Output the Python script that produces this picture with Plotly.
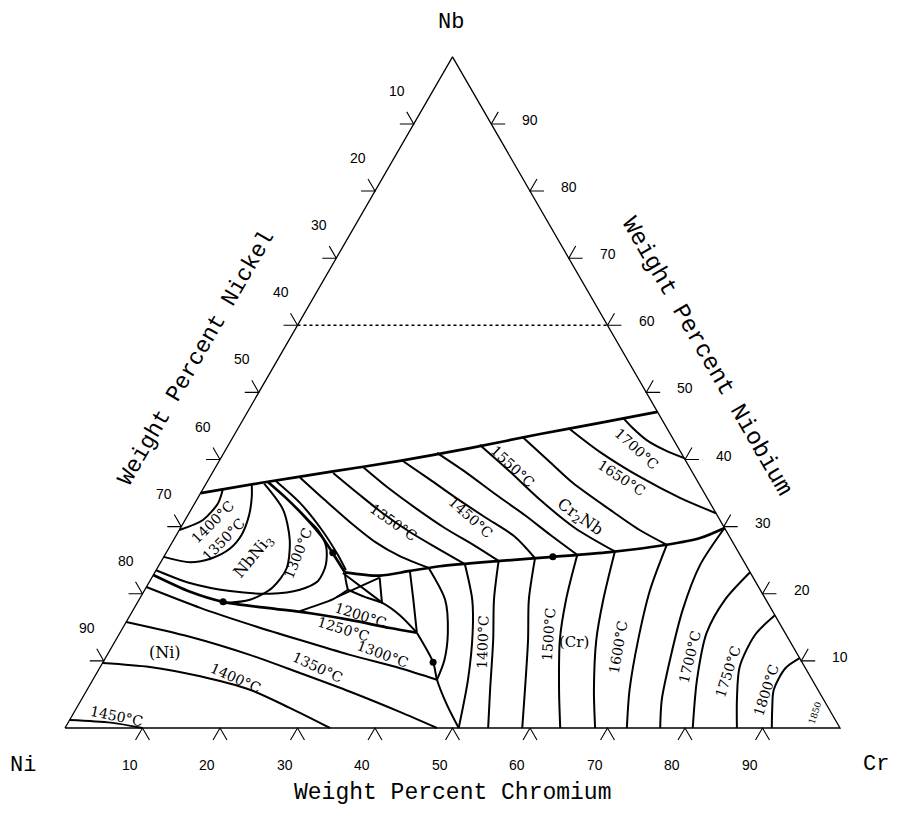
import numpy as np
import plotly.graph_objects as go

# all compositions in wt% as (Cr, Nb); Ni is the balance

# outer limit of the projection and the Nb = 60 dotted line
liquidus_limit = [(0, 35.0), (6.9, 36.5), (15.1, 38.15), (23.3, 39.8), (31.4, 41.7),
                  (39.4, 43.8), (46.3, 45.45), (52.9, 47.1)]
dotted_nb60 = [(0, 60), (40, 60)]

# univariant valleys
valley_ni_nbni3 = [(0, 22.8), (6.0, 20.3), (11.0, 18.8), (17.1, 17.9), (23.1, 17.1),
                   (28.7, 16.1), (34.5, 14.9), (38.3, 14.2)]
valley_nbni3_cr2nb = [(7.8, 36.7), (11.2, 34.4), (15.3, 31.4), (18.9, 28.5), (22.0, 25.6), (24.5, 23.2)]
valley_cr2nb_cr = [(24.5, 23.2), (29.3, 22.7), (32.8, 23.4), (36.3, 24.1), (43.7, 24.9),
                   (50.2, 25.5), (57.2, 26.2), (64.0, 27.3), (67.8, 28.3), (70.2, 29.8)]
branch_to_e1 = [(21.6, 17.4), (23.4, 18.3), (25.0, 19.2), (26.2, 20.6)]
e1_link = [(24.5, 23.2), (25.3, 21.9), (26.2, 20.6)]
e1_to_e2 = [(26.2, 20.6), (29.0, 19.5), (31.7, 18.6), (34.8, 16.8), (38.3, 14.2)]
e1_cross_a = [(25.3, 19.5), (29.4, 22.4)]
e1_cross_b = [(24.3, 23.1), (31.7, 18.6)]
e1_short = [(29.4, 22.4), (31.6, 18.6)]
e2_vertical = [(32.8, 23.4), (35.4, 19.1), (38.3, 14.2)]
valley_ni_cr = [(38.3, 14.2), (42.6, 9.8), (44.4, 7.2), (47.6, 3.4), (50.8, 0)]

# NbNi3 field isotherms
nbni3_1400 = [(0, 29.5), (2.3, 31.0), (3.0, 33.5), (2.6, 35.5)]
nbni3_1350 = [(0, 25.5), (3.8, 24.7), (6.3, 25.3), (7.9, 26.7), (8.4, 28.8), (7.9, 31.7), (6.9, 34.4), (6.0, 36.2)]
nbni3_inner = [(7.5, 36.4), (11.9, 32.5), (15.0, 28.0), (16.7, 23.8), (16.3, 20.9), (14.3, 19.1), (11.3, 18.6)]
nbni3_1300 = [(0, 23.5), (5.3, 21.6), (11.1, 20.4), (16.5, 20.0), (20.0, 20.6), (21.7, 21.9),
              (21.5, 24.3), (20.2, 27.0), (17.9, 29.5), (15.4, 31.3)]

# Cr2Nb field isotherms
cr2nb_1300 = [(8.8, 36.8), (13.6, 33.5), (18.4, 29.5), (22.3, 25.8), (24.5, 23.5)]
cr2nb_c1 = [(11.7, 37.3), (16.5, 34.0), (21.4, 30.7), (26.2, 27.7), (30.4, 25.6), (35.0, 23.85)]
cr2nb_c2 = [(15.6, 38.0), (20.4, 34.9), (25.0, 32.0), (29.9, 29.2), (34.6, 26.8), (39.4, 24.4)]
cr2nb_c3 = [(19.0, 38.9), (24.1, 35.6), (28.8, 32.8), (34.1, 29.8), (39.4, 27.1), (43.5, 24.9)]
cr2nb_c4 = [(23.5, 39.9), (28.6, 37.0), (33.1, 34.4), (38.5, 31.4), (43.8, 28.5), (48.0, 25.3)]
cr2nb_c5 = [(27.5, 41.0), (32.5, 38.2), (38.0, 34.9), (43.5, 31.7), (48.2, 28.8), (53.2, 25.8)]
cr2nb_c6 = [(32.4, 42.2), (38.3, 38.2), (44.3, 34.0), (50.9, 29.8), (57.8, 26.3)]
cr2nb_c7 = [(37.3, 43.4), (42.8, 39.6), (47.3, 36.5), (54.1, 32.5), (59.4, 29.5), (64.0, 27.3)]
cr2nb_1650 = [(42.6, 44.7), (48.5, 41.1), (55.5, 37.4), (62.2, 34.3), (68.0, 32.0)]
cr2nb_1700 = [(48.9, 46.2), (50.9, 44.7), (53.6, 42.9), (56.7, 41.4), (59.8, 40.2)]

# (Ni) field isotherms
ni_1300 = [(0, 21.0), (8.5, 17.9), (16.2, 15.4), (23.8, 13.1), (31.3, 10.9), (38.8, 8.9), (44.4, 7.2)]
ni_1350 = [(0, 15.8), (9.3, 13.6), (18.4, 10.9), (26.2, 8.2), (34.1, 5.4), (42.0, 2.4), (48.0, 0)]
ni_1400 = [(0, 9.7), (6.4, 9.1), (13.6, 7.7), (21.0, 5.7), (27.5, 3.0), (34.2, 0)]
ni_1450 = [(0, 1.2), (5.5, 0.8), (10.0, 0)]

# (Cr) field isotherms
cr_k1 = [(35.0, 23.85), (39.5, 19.1), (42.3, 14.2), (43.9, 10.1), (44.4, 7.2)]
cr_k2 = [(39.4, 24.4), (43.0, 19.1), (45.5, 14.2), (48.4, 7.2), (50.8, 0)]
cr_k3 = [(43.5, 24.9), (45.8, 19.1), (48.7, 13.1), (52.0, 5.7), (54.6, 0)]
cr_k4 = [(48.0, 25.3), (50.3, 19.1), (53.2, 13.1), (56.5, 5.7), (59.0, 0)]
cr_k5 = [(53.2, 25.8), (55.1, 19.1), (57.3, 13.1), (60.9, 5.7), (63.9, 0)]
cr_k6 = [(57.8, 26.3), (59.9, 19.1), (62.0, 13.1), (65.4, 5.7), (68.4, 0)]
cr_k7 = [(64.0, 27.3), (65.2, 20.6), (67.4, 13.1), (70.0, 5.7), (72.5, 0)]
cr_k8 = [(70.2, 29.8), (69.8, 24.3), (70.9, 17.6), (73.0, 10.1), (74.9, 4.2), (76.8, 0)]
cr_k9 = [(76.8, 23.2), (75.6, 19.1), (75.7, 14.2), (77.95, 7.2), (81.0, 0)]
cr_k10 = [(83.2, 16.8), (82.1, 13.9), (82.5, 9.1), (84.6, 4.2), (86.7, 0)]
cr_k11 = [(89.6, 10.4), (88.5, 8.9), (88.6, 5.7), (89.9, 2.7), (91.2, 0)]

# arrow dots on the valleys
dot_cr = [11.0, 21.5, 50.2, 42.6]
dot_nb = [18.8, 26.1, 25.5, 9.8]

# curve labels
label_text = ["1400°C", "1350°C", "NbNi<sub>3</sub>", "1300°C",
              "1350°C", "1450°C", "1550°C", "Cr<sub>2</sub>Nb", "1700°C", "1650°C",
              "(Ni)", "1450°C", "1400°C", "1350°C", "1300°C", "1250°C", "1200°C",
              "1400°C", "1500°C", "(Cr)", "1600°C", "1700°C", "1750°C", "1800°C", "1850"]
label_cr = [3.7, 6.4, 11.5, 17.0,
            27.0, 36.6, 38.2, 50.8, 53.0, 53.2,
            7.3, 5.7, 18.3, 28.0, 35.5, 28.5, 29.7,
            47.5, 55.4, 59.3, 65.3, 75.3, 81.4, 87.6, 95.7]
label_nb = [30.7, 28.0, 25.6, 26.1,
            30.7, 31.4, 39.0, 31.3, 41.6, 37.3,
            11.3, 1.8, 7.45, 9.1, 11.0, 14.8, 16.8,
            12.8, 13.9, 12.8, 12.1, 10.6, 8.3, 5.7, 2.2]
label_angle = [-45, -45, -50, -68,
               35, 42, 43, 35, 42, 33,
               0, 12, 24, 25, 20, 17, 18,
               -88, -86, 0, -80, -76, -72, -72, -72]

ticks = [10, 20, 30, 40, 50, 60, 70, 80, 90]

S3 = np.sqrt(3) / 2


def to_xy(cr, nb):
    cr = np.asarray(cr, dtype=float)
    nb = np.asarray(nb, dtype=float)
    return cr + nb / 2, nb * S3


fig = go.Figure()


def add_curve(pts, width=2.0, dash="solid", smooth=True):
    x, y = to_xy([p[0] for p in pts], [p[1] for p in pts])
    fig.add_trace(go.Scatter(
        x=x, y=y, mode="lines",
        line=dict(color="black", width=width, dash=dash,
                  shape="spline" if smooth else "linear", smoothing=0.8),
        hoverinfo="skip", showlegend=False))


# triangle frame
add_curve([(0, 0), (100, 0), (0, 100), (0, 0)], width=1.3, smooth=False)
add_curve(dotted_nb60, width=1.6, dash="dot", smooth=False)

# tick marks drawn outward along the constant-composition directions
d = 1.8
tx, ty = [], []
for t in ticks:
    for seg in ([(t, -d), (t, 0), (t + d, -d)],
                [(-d, t + d), (0, t), (-d, t)],
                [(100 - t, t + d), (100 - t, t), (100 - t + d, t)]):
        x, y = to_xy([p[0] for p in seg], [p[1] for p in seg])
        tx += list(x) + [None]
        ty += list(y) + [None]
fig.add_trace(go.Scatter(x=tx, y=ty, mode="lines", line=dict(color="black", width=1.1),
                         hoverinfo="skip", showlegend=False))

for c in [liquidus_limit, valley_ni_nbni3, valley_nbni3_cr2nb, valley_cr2nb_cr]:
    add_curve(c, width=2.7)

for c in [branch_to_e1, e1_link, e1_to_e2, e1_cross_a, e1_cross_b, e1_short, e2_vertical,
          valley_ni_cr,
          nbni3_1400, nbni3_1350, nbni3_inner, nbni3_1300,
          cr2nb_1300, cr2nb_c1, cr2nb_c2, cr2nb_c3, cr2nb_c4, cr2nb_c5, cr2nb_c6, cr2nb_c7,
          cr2nb_1650, cr2nb_1700,
          ni_1300, ni_1350, ni_1400, ni_1450,
          cr_k1, cr_k2, cr_k3, cr_k4, cr_k5, cr_k6, cr_k7, cr_k8, cr_k9, cr_k10, cr_k11]:
    add_curve(c, width=2.0)

dx, dy = to_xy(dot_cr, dot_nb)
fig.add_trace(go.Scatter(x=dx, y=dy, mode="markers", marker=dict(color="black", size=7),
                         hoverinfo="skip", showlegend=False))

ann = []
serif = "DejaVu Serif"
mono = "Liberation Mono"
sans = "Liberation Sans"

for txt, cr, nb, ang in zip(label_text, label_cr, label_nb, label_angle):
    x, y = to_xy(cr, nb)
    size = 14
    if txt == "(Ni)":
        size = 16
    elif txt == "(Cr)":
        size = 15
    elif txt.startswith("NbNi") or txt.startswith("Cr<"):
        size = 16
    elif txt == "1850":
        size = 9
    ann.append(dict(x=float(x), y=float(y), text=txt, showarrow=False, textangle=ang,
                    font=dict(family=serif, size=size, color="black")))

# tick labels
for t in ticks:
    x, y = to_xy(t, 0)
    ann.append(dict(x=float(x), y=float(y), text=str(t), showarrow=False, xshift=-13, yshift=-37,
                    font=dict(family=sans, size=14, color="black")))
    x, y = to_xy(0, 100 - t)
    ann.append(dict(x=float(x), y=float(y), text=str(t), showarrow=False, xshift=-17, yshift=33,
                    font=dict(family=sans, size=14, color="black")))
    x, y = to_xy(100 - t, t)
    ann.append(dict(x=float(x), y=float(y), text=str(t), showarrow=False, xshift=39, yshift=4,
                    font=dict(family=sans, size=14, color="black")))

# vertex labels and axis titles
for txt, cr, nb, xs, ys in [("Nb", 0, 100, -2, 34), ("Ni", 0, 0, -42, -37), ("Cr", 100, 0, 36, -36)]:
    x, y = to_xy(cr, nb)
    ann.append(dict(x=float(x), y=float(y), text=txt, showarrow=False, xshift=xs, yshift=ys,
                    font=dict(family=mono, size=22, color="black")))

ann.append(dict(x=50, y=0, text="Weight Percent Chromium", showarrow=False, yshift=-65,
                font=dict(family=mono, size=23, color="black")))
ann.append(dict(x=17.0, y=47.7, text="Weight Percent Nickel", showarrow=False, textangle=-60,
                font=dict(family=mono, size=23, color="black")))
ann.append(dict(x=82.8, y=47.9, text="Weight Percent Niobium", showarrow=False, textangle=60,
                font=dict(family=mono, size=24, color="black")))

fig.update_layout(
    width=881, height=801,
    margin=dict(l=0, r=0, t=0, b=0),
    paper_bgcolor="white", plot_bgcolor="white",
    xaxis=dict(range=[-57 / 7.75, 824 / 7.75], visible=False, fixedrange=True),
    yaxis=dict(range=[-81 / 7.75, 720 / 7.75], visible=False, fixedrange=True),
    annotations=ann,
    showlegend=False,
)

fig.write_html("out.html")
